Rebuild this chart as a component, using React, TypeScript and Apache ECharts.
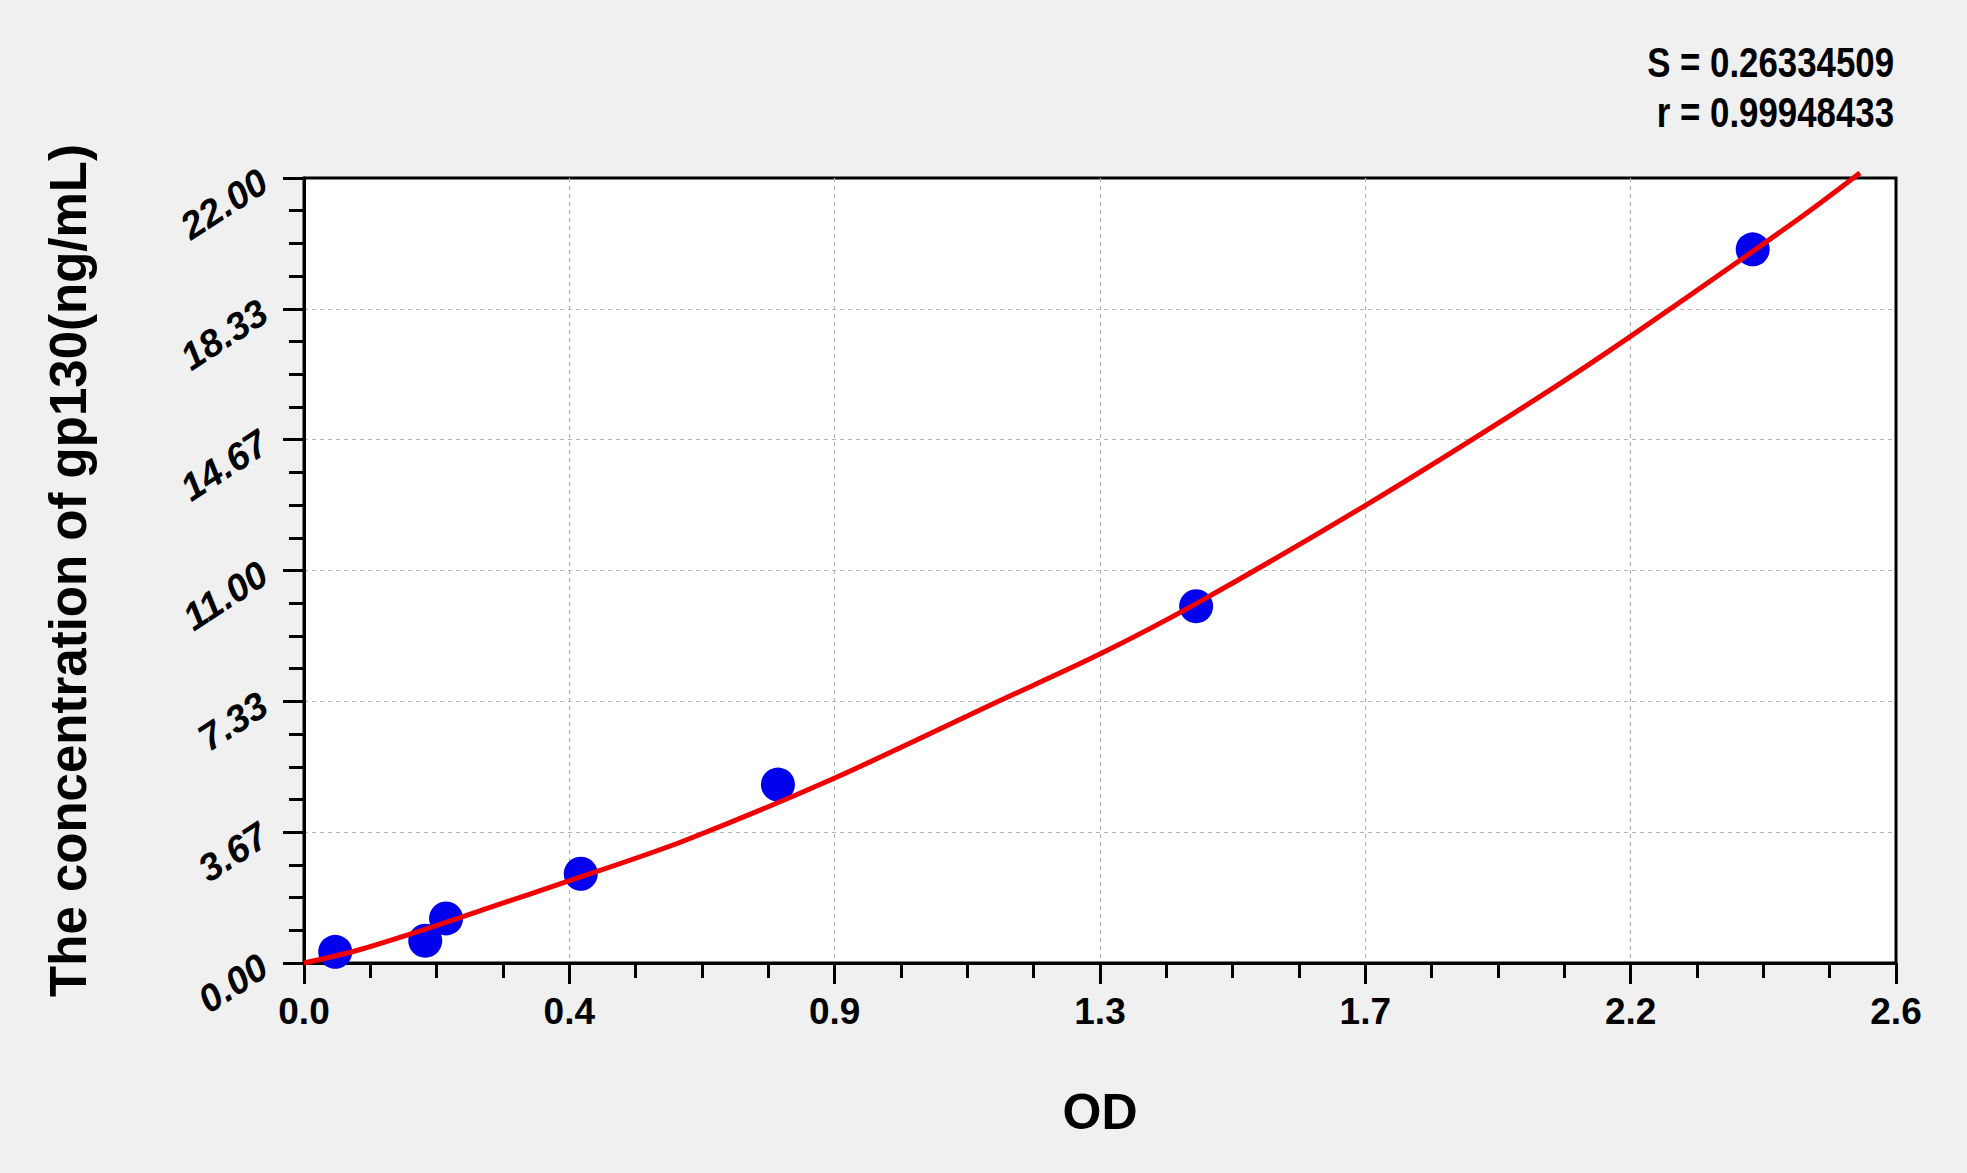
import { useEffect, useRef } from "react";
import * as echarts from "echarts";

// standards: OD readings and known concentrations (ng/mL)
const odValues = [0.051, 0.198, 0.232, 0.452, 0.774, 1.457, 2.366];
const concValues = [0.3125, 0.625, 1.25, 2.5, 5, 10, 20];

// fitted curve
const curveOd = [0, 0.086, 0.195, 0.304, 0.429, 0.62, 0.865, 1.13, 1.299, 1.457, 1.733, 2.008, 2.167, 2.443, 2.541];
const curveConc = [0, 0.35, 0.93, 1.56, 2.28, 3.42, 5.17, 7.3, 8.65, 10.07, 12.82, 15.76, 17.57, 20.88, 22.14];

const xTickLabels = ["0.0", "0.4", "0.9", "1.3", "1.7", "2.2", "2.6"];
const yTickLabels = ["0.00", "3.67", "7.33", "11.00", "14.67", "18.33", "22.00"];
const xMax = 2.6;
const yMax = 22;
const fitStats = ["S = 0.26334509", "r = 0.99948433"];

const FONT = "'Liberation Sans', Arial, sans-serif";

export default function App(): JSX.Element {
  const chartRef = useRef<HTMLDivElement>(null);

  useEffect(() => {
    const chart = echarts.init(chartRef.current, null, { renderer: "svg" });
    const xStep = xMax / (xTickLabels.length - 1);
    const yStep = yMax / (yTickLabels.length - 1);

    const option = {
      animation: false,
      backgroundColor: "#f0f0f0",
      grid: {
        left: 304,
        right: 71,
        top: 178,
        bottom: 210,
        show: true,
        backgroundColor: "#ffffff",
        borderColor: "#000000",
        borderWidth: 3,
      },
      xAxis: {
        type: "value",
        min: 0,
        max: xMax,
        interval: xStep,
        name: "OD",
        nameLocation: "middle",
        nameGap: 124,
        nameTextStyle: { fontFamily: FONT, fontWeight: "bold", fontSize: 50, color: "#000" },
        axisLine: { show: true, lineStyle: { color: "#000", width: 3 } },
        axisTick: { show: true, length: 21, lineStyle: { color: "#000", width: 3 } },
        minorTick: { show: true, splitNumber: 4, length: 15, lineStyle: { color: "#000", width: 3 } },
        axisLabel: {
          margin: 30,
          fontFamily: FONT,
          fontWeight: "bold",
          fontSize: 37,
          color: "#000",
          formatter: (v: number) => xTickLabels[Math.round(v / xStep)] ?? "",
        },
        splitLine: {
          show: true,
          showMinLine: false,
          showMaxLine: false,
          lineStyle: { color: "#b4b4b4", width: 1.2, type: [4, 4] },
        },
      },
      yAxis: {
        type: "value",
        min: 0,
        max: yMax,
        interval: yStep,
        name: "The concentration of gp130(ng/mL)",
        nameLocation: "middle",
        nameGap: 210,
        nameTextStyle: { fontFamily: FONT, fontWeight: "bold", fontSize: 51, color: "#000" },
        axisLine: { show: true, lineStyle: { color: "#000", width: 3 } },
        axisTick: { show: true, length: 21, lineStyle: { color: "#000", width: 3 } },
        minorTick: { show: true, splitNumber: 4, length: 15, lineStyle: { color: "#000", width: 3 } },
        axisLabel: {
          margin: 40,
          rotate: 33,
          fontFamily: FONT,
          fontWeight: "bold",
          fontStyle: "italic",
          fontSize: 38,
          color: "#000",
          formatter: (v: number) => yTickLabels[Math.round(v / yStep)] ?? "",
        },
        splitLine: {
          show: true,
          showMinLine: false,
          showMaxLine: false,
          lineStyle: { color: "#b4b4b4", width: 1.2, type: [4, 4] },
        },
      },
      graphic: fitStats.map((t, i) => ({
        type: "text",
        x: 1894,
        y: 41 + i * 50,
        scaleX: 0.81,
        style: {
          text: t,
          align: "right",
          verticalAlign: "top",
          fontFamily: FONT,
          fontWeight: "bold",
          fontSize: 43,
          fill: "#000",
        },
      })),
      series: [
        {
          type: "scatter",
          data: odValues.map((x, i) => [x, concValues[i]]),
          symbol: "circle",
          symbolSize: 34,
          itemStyle: { color: "#0000ee", opacity: 1 },
          z: 2,
        },
        {
          type: "line",
          data: curveOd.map((x, i) => [x, curveConc[i]]),
          smooth: 0.3,
          showSymbol: false,
          clip: false,
          lineStyle: { color: "#f00000", width: 5 },
          z: 3,
        },
      ],
    };

    chart.setOption(option);
    return () => {
      chart.dispose();
    };
  }, []);

  return (
    <div
      ref={chartRef}
      style={{ position: "fixed", left: 0, top: 0, width: "1967px", height: "1173px" }}
    ></div>
  );
}
